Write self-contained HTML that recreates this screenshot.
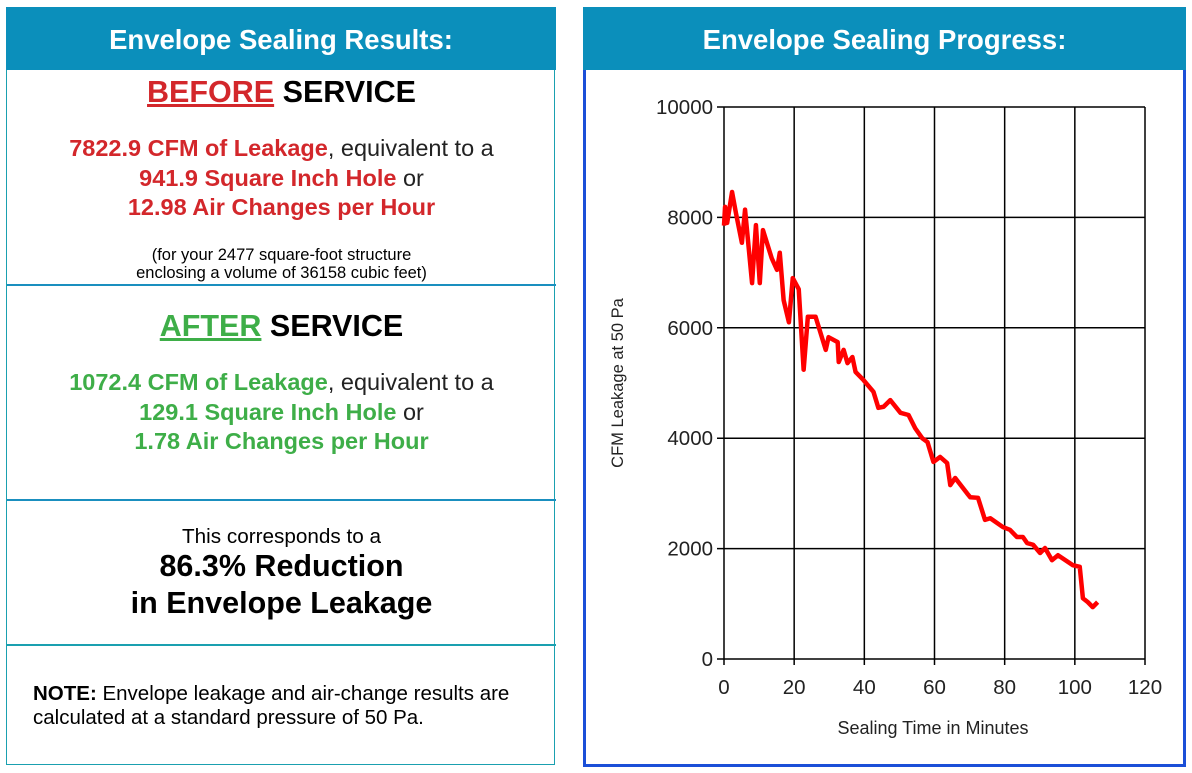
<!DOCTYPE html>
<html><head><meta charset="utf-8"><style>
body{margin:0;width:1192px;height:773px;background:#fff;font-family:"Liberation Sans",Arial,sans-serif;position:relative;overflow:hidden}
.abs{position:absolute}
.hdr{background:#0b8fbb;color:#fff;font-weight:bold;font-size:27.5px;text-align:center;line-height:66px}
.c{text-align:center;left:7px;width:549px}
.red{color:#d3272b}.grn{color:#3eae48}
.big{font-size:30.5px;font-weight:bold}
.mid{font-size:23.5px;font-weight:bold;line-height:29.5px}
.mid span.n{color:#222;font-weight:normal}
</style></head><body>
<div class="abs" style="left:6px;top:7px;width:549px;height:758px;border:1.5px solid #1aa0b0;box-sizing:border-box"></div>
<div class="abs hdr" style="left:6px;top:7px;width:550px;height:63px">Envelope Sealing Results:</div>
<div class="abs c big" style="top:75px"><span class="red" style="text-decoration:underline">BEFORE</span> SERVICE</div>
<div class="abs c mid red" style="top:134px">7822.9 CFM of Leakage<span class="n">, equivalent to a</span><br>941.9 Square Inch Hole <span class="n">or</span><br>12.98 Air Changes per Hour</div>
<div class="abs c" style="top:246px;font-size:16.5px;line-height:18px">(for your 2477 square-foot structure<br>enclosing a volume of 36158 cubic feet)</div>
<div class="abs" style="left:7px;top:284px;width:549px;height:2px;background:#1a8fbf"></div>
<div class="abs c big" style="top:309px"><span class="grn" style="text-decoration:underline">AFTER</span> SERVICE</div>
<div class="abs c mid grn" style="top:368px">1072.4 CFM of Leakage<span class="n">, equivalent to a</span><br>129.1 Square Inch Hole <span class="n">or</span><br>1.78 Air Changes per Hour</div>
<div class="abs" style="left:7px;top:499px;width:549px;height:2px;background:#1a8fbf"></div>
<div class="abs c" style="top:525px;font-size:20.7px">This corresponds to a</div>
<div class="abs c" style="top:548px;font-size:30.5px;font-weight:bold;line-height:37px">86.3% Reduction<br>in Envelope Leakage</div>
<div class="abs" style="left:7px;top:644px;width:549px;height:2px;background:#1aa0b0"></div>
<div class="abs" style="left:33px;top:682px;font-size:20.5px;line-height:24px"><b>NOTE:</b> Envelope leakage and air-change results are<br>calculated at a standard pressure of 50 Pa.</div>

<div class="abs" style="left:583px;top:7px;width:603px;height:760px;border:3px solid #1b4fd8;box-sizing:border-box"></div>
<div class="abs hdr" style="left:583px;top:7px;width:603px;height:63px">Envelope Sealing Progress:</div>
<svg class="abs" style="left:0;top:0" width="1192" height="773" id="chart"></svg>
<script>
const xTicks=[0,20,40,60,80,100,120];
const yTicks=[0,2000,4000,6000,8000,10000];
const minutes=[0,0.3,0.9,2.3,3.4,5.1,6.0,8.0,9.1,10.2,11.1,13.6,15.1,15.9,17.0,18.5,19.6,21.3,22.7,23.9,26.1,29.0,29.8,32.4,32.7,34.1,35.2,36.6,37.5,39.8,42.6,44.0,45.5,47.4,50.3,52.6,54.5,56.5,58.0,59.7,61.6,63.6,64.5,65.9,69.3,70.2,72.4,74.4,75.9,79.5,81.5,83.5,85.2,86.4,88.1,90.1,91.5,93.5,95.2,99.4,101.4,102.3,103.7,105.1,106.5];
const leakage=[7850,8190,7900,8460,8080,7540,8140,6810,7860,6810,7770,7260,7050,7360,6500,6100,6900,6700,5240,6200,6200,5600,5830,5740,5380,5600,5360,5470,5200,5050,4840,4550,4570,4690,4460,4420,4180,4000,3930,3570,3660,3550,3150,3280,3000,2930,2920,2520,2550,2390,2340,2210,2210,2100,2070,1920,2010,1790,1880,1700,1670,1100,1030,940,1030];
const svg=document.getElementById('chart');const NS='http://www.w3.org/2000/svg';
const X0=724,X1=1145,Y0=659,Y1=107;
const sx=v=>X0+(v-0)/(120-0)*(X1-X0);
const sy=v=>Y0-(v/10000)*(Y0-Y1);
function mk(t,a){const e=document.createElementNS(NS,t);for(const k in a)e.setAttribute(k,a[k]);svg.appendChild(e);return e;}
xTicks.forEach(t=>{
 const l=mk('line',{x1:sx(t),x2:sx(t),y1:Y1,y2:Y0+6,stroke:'#000','stroke-width':1.5});
 
 
 const tx=mk('text',{x:sx(t),y:Y0+35,'text-anchor':'middle','font-size':20.5,fill:'#222','font-family':'Liberation Sans, sans-serif'});tx.textContent=t;
 
 
});
yTicks.forEach(t=>{
 const l=mk('line',{x1:X0-7,x2:X1,y1:sy(t),y2:sy(t),stroke:'#000','stroke-width':1.5});
 
 
 const tx=mk('text',{x:X0-11,y:sy(t)+7,'text-anchor':'end','font-size':20.5,fill:'#222','font-family':'Liberation Sans, sans-serif'});tx.textContent=t;
 
 
});
const pl=mk('polyline',{points:minutes.map((m,i)=>sx(m)+','+sy(leakage[i])).join(' '),fill:'none',stroke:'#ff0000','stroke-width':4.5,'stroke-linejoin':'round'});


const xt=mk('text',{x:933,y:734,'text-anchor':'middle','font-size':18,fill:'#222','font-family':'Liberation Sans, sans-serif'});xt.textContent='Sealing Time in Minutes';


const yt=mk('text',{x:0,y:0,transform:'translate(623,383) rotate(-90)','text-anchor':'middle','font-size':16.5,fill:'#222','font-family':'Liberation Sans, sans-serif'});yt.textContent='CFM Leakage at 50 Pa';


</script>
</body></html>
